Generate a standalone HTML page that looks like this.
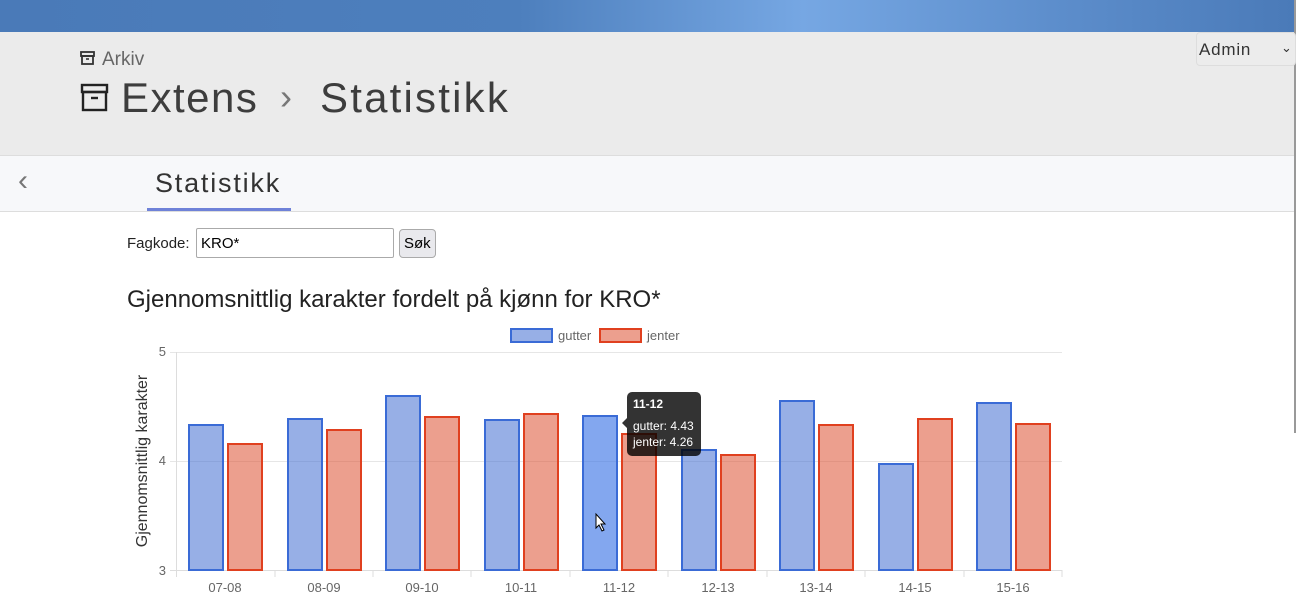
<!DOCTYPE html>
<html><head><meta charset="utf-8"><style>
*{margin:0;padding:0;box-sizing:border-box}
body{width:1296px;height:600px;overflow:hidden;background:#fff;font-family:"Liberation Sans",sans-serif;position:relative}
.top{position:absolute;left:0;top:0;width:1296px;height:32px;background:linear-gradient(90deg,#4a7ab8 0%,#4d7fbd 40%,#76a7e3 62%,#5c8dcb 82%,#4a7ab8 100%)}
.hdr{position:absolute;left:0;top:32px;width:1296px;height:124px;background:#ebebeb;border-bottom:1px solid #ddd}
.nav{position:absolute;left:0;top:156px;width:1296px;height:56px;background:#f7f8fa;border-bottom:1px solid #ddd}
.t{position:absolute;color:#444;white-space:nowrap}
</style></head><body>
<div class="top"></div>
<div class="hdr"></div>
<div class="nav"></div>
<div style="position:absolute;right:0;top:0;width:2px;height:433px;background:#999"></div>
<svg style="position:absolute;left:80px;top:50px" width="16" height="16" viewBox="0 0 16 16"><rect x="1" y="2" width="13" height="4" fill="none" stroke="#333" stroke-width="1.8"/><rect x="2" y="6" width="11" height="8" fill="none" stroke="#333" stroke-width="1.8"/><line x1="6" y1="9" x2="9" y2="9" stroke="#333" stroke-width="1.6"/></svg>
<div class="t" style="left:102px;top:49px;font-size:19px;color:#666">Arkiv</div>
<svg style="position:absolute;left:80px;top:82px" width="30" height="30" viewBox="0 0 30 30"><rect x="2" y="3" width="25" height="7" fill="none" stroke="#222" stroke-width="2.4"/><rect x="3" y="10" width="23" height="18" fill="none" stroke="#222" stroke-width="2.4"/><line x1="11" y1="16" x2="18" y2="16" stroke="#222" stroke-width="2.4"/></svg>
<div class="t" style="left:121px;top:74px;font-size:42px;color:#3d3d3d;letter-spacing:1.5px">Extens</div>
<div class="t" style="left:280px;top:76px;font-size:36px;color:#777">›</div>
<div class="t" style="left:320px;top:74px;font-size:42px;color:#3d3d3d;letter-spacing:2.2px">Statistikk</div>
<div style="position:absolute;left:1196px;top:32px;width:100px;height:34px;border:1px solid #ddd;border-radius:4px;background:#ececec"></div>
<div class="t" style="left:1199px;top:40px;font-size:17px;color:#333;letter-spacing:0.8px">Admin</div>
<div class="t" style="left:1281px;top:40px;font-size:13px;color:#333">⌄</div>
<div class="t" style="left:18px;top:164px;font-size:30px;color:#777">‹</div>
<div class="t" style="left:155px;top:168px;font-size:27px;color:#333;letter-spacing:1.8px">Statistikk</div>
<div style="position:absolute;left:147px;top:208px;width:144px;height:3px;background:#6f82d8"></div>
<div class="t" style="left:127px;top:235px;font-size:15px;color:#222">Fagkode:</div>
<div style="position:absolute;left:196px;top:228px;width:198px;height:30px;border:1px solid #aaa;border-radius:2px;background:#fff"></div>
<div class="t" style="left:201px;top:235px;font-size:15px;color:#000">KRO*</div>
<div style="position:absolute;left:399px;top:229px;width:37px;height:29px;border:1px solid #aaa;border-radius:4px;background:#e9e9ed"></div>
<div class="t" style="left:404px;top:235px;font-size:15px;color:#000">Søk</div>
<div class="t" style="left:127px;top:286px;font-size:24px;color:#222">Gjennomsnittlig karakter fordelt på kjønn for KRO*</div>
<svg style="position:absolute;left:0;top:0" width="1296" height="600" font-family="Liberation Sans, sans-serif">
<rect x="511" y="329" width="41" height="13" fill="rgba(65,110,210,0.55)" stroke="#3a6bd6" stroke-width="2"/>
<text x="558" y="340" font-size="13" fill="#666">gutter</text>
<rect x="600" y="329" width="41" height="13" fill="rgba(220,80,50,0.55)" stroke="#e0401f" stroke-width="2"/>
<text x="647" y="340" font-size="13" fill="#666">jenter</text>
<line x1="170" y1="352.5" x2="1062" y2="352.5" stroke="#e6e6e6"/>
<line x1="170" y1="461.5" x2="1062" y2="461.5" stroke="#e6e6e6"/>
<line x1="170" y1="570.5" x2="1062" y2="570.5" stroke="#ddd"/>
<line x1="176.5" y1="352" x2="176.5" y2="577" stroke="#ddd"/>
<g stroke="#ddd">
<line x1="275" y1="570" x2="275" y2="577"/><line x1="373" y1="570" x2="373" y2="577"/><line x1="471" y1="570" x2="471" y2="577"/><line x1="570" y1="570" x2="570" y2="577"/><line x1="668" y1="570" x2="668" y2="577"/><line x1="767" y1="570" x2="767" y2="577"/><line x1="865" y1="570" x2="865" y2="577"/><line x1="964" y1="570" x2="964" y2="577"/><line x1="1062" y1="570" x2="1062" y2="577"/>
</g>
<g font-size="13" fill="#666" text-anchor="end"><text x="166" y="356">5</text><text x="166" y="465">4</text><text x="166" y="575">3</text></g>
<text transform="translate(147,461) rotate(-90)" font-size="16" fill="#333" text-anchor="middle">Gjennomsnittlig karakter</text>
<g font-size="13" fill="#666" text-anchor="middle">
<text x="225" y="592">07-08</text><text x="324" y="592">08-09</text><text x="422" y="592">09-10</text><text x="521" y="592">10-11</text><text x="619" y="592">11-12</text><text x="718" y="592">12-13</text><text x="816" y="592">13-14</text><text x="915" y="592">14-15</text><text x="1013" y="592">15-16</text>
</g>
<g fill="rgba(65,110,210,0.55)" stroke="#3a6bd6" stroke-width="2">
<rect x="189" y="425" width="34" height="145"/>
<rect x="288" y="419" width="34" height="151"/>
<rect x="386" y="396" width="34" height="174"/>
<rect x="485" y="420" width="34" height="150"/>
<rect x="583" y="416" width="34" height="154" fill="rgba(65,120,230,0.65)"/>
<rect x="682" y="450" width="34" height="120"/>
<rect x="780" y="401" width="34" height="169"/>
<rect x="879" y="464" width="34" height="106"/>
<rect x="977" y="403" width="34" height="167"/>
</g>
<g fill="rgba(220,80,50,0.55)" stroke="#e0401f" stroke-width="2">
<rect x="228" y="444" width="34" height="126"/>
<rect x="327" y="430" width="34" height="140"/>
<rect x="425" y="417" width="34" height="153"/>
<rect x="524" y="414" width="34" height="156"/>
<rect x="622" y="434" width="34" height="136"/>
<rect x="721" y="455" width="34" height="115"/>
<rect x="819" y="425" width="34" height="145"/>
<rect x="918" y="419" width="34" height="151"/>
<rect x="1016" y="424" width="34" height="146"/>
</g>
<path d="M632,392 H696 a5,5 0 0 1 5,5 V451 a5,5 0 0 1 -5,5 H632 a5,5 0 0 1 -5,-5 V428 L622,423 L627,418 V397 a5,5 0 0 1 5,-5Z" fill="rgba(0,0,0,0.8)"/>
<text x="633" y="408" font-size="12" font-weight="bold" fill="#fff">11-12</text>
<text x="633" y="430" font-size="12" fill="#fff">gutter: 4.43</text>
<text x="633" y="446" font-size="12" fill="#fff">jenter: 4.26</text>
<path d="M596,514 L596,528 L599,525 L602,531 L604,530 L601,524 L605,524 Z" fill="#fff" stroke="#000" stroke-width="1"/>
</svg>
</body></html>
